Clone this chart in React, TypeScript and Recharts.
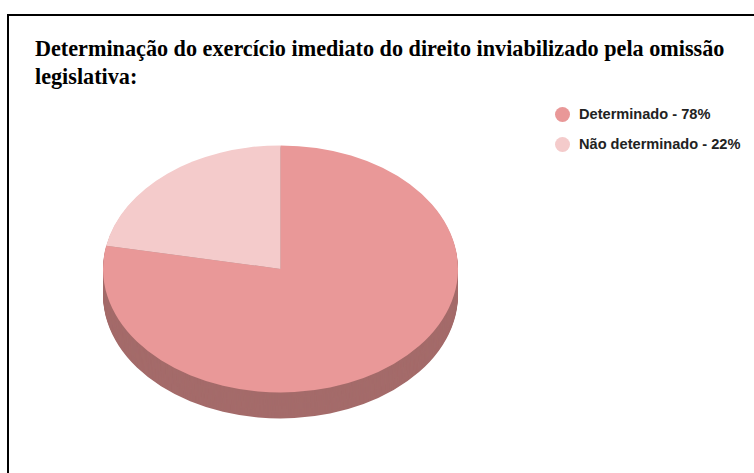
import React from 'react';
import { PieChart, Pie, Cell } from 'recharts';

const categories = ['Determinado', 'Não determinado'];
const values = [78, 22];
const legendLabels = ['Determinado - 78%', 'Não determinado - 22%'];
const topColors = ['#E99898', '#F4CBCB'];
const sideColor = '#A46B6A';
const titleText = 'Determinação do exercício imediato do direito inviabilizado pela omissão legislativa:';

const data = categories.map((name, i) => ({ name, value: values[i] }));

const R = 177.5;
const K = 123.5 / 177.5;
const D = 26 / K;
const W = 2 * R + 4;
const H = 2 * R + D + 6;
const CX = W / 2;
const CY = R + 2;
const depthSteps: number[] = [];
for (let o = D; o > 0; o -= 1.5) depthSteps.push(o);

export default function App() {
  return (
    <div style={{ position: 'fixed', left: 0, top: 0, width: 754, height: 473, background: '#fff', overflow: 'hidden' }}>
      <div style={{ position: 'absolute', left: 7, top: 14, width: 800, height: 500, border: '2px solid #000', boxSizing: 'border-box' }} />
      <div
        style={{
          position: 'absolute',
          left: 35,
          top: 35,
          width: 710,
          fontFamily: '"Liberation Serif", "Times New Roman", serif',
          fontWeight: 'bold',
          fontSize: 22.2,
          lineHeight: '28px',
          color: '#000',
        }}
      >
        {titleText}
      </div>
      <div style={{ position: 'absolute', left: 555, top: 99 }}>
        {legendLabels.map((label, i) => (
          <div key={label} style={{ display: 'flex', alignItems: 'center', height: 30 }}>
            <div style={{ width: 15, height: 15, borderRadius: 7.5, background: topColors[i], marginRight: 9 }} />
            <span style={{ fontFamily: '"Liberation Sans", Arial, sans-serif', fontWeight: 'bold', fontSize: 14.6, color: '#222' }}>{label}</span>
          </div>
        ))}
      </div>
      <div
        style={{
          position: 'absolute',
          left: 280.5 - CX,
          top: 145 - 2 * K,
          width: W,
          height: H,
          transform: `scaleY(${K})`,
          transformOrigin: 'top left',
        }}
      >
        <PieChart width={W} height={H} margin={{ top: 0, right: 0, bottom: 0, left: 0 }}>
          {depthSteps.map((o) => (
            <Pie
              key={'side' + o}
              data={data}
              dataKey="value"
              nameKey="name"
              cx={CX}
              cy={CY + o}
              outerRadius={R}
              startAngle={90}
              endAngle={-270}
              stroke="none"
              isAnimationActive={false}
              legendType="none"
            >
              {data.map((d) => (
                <Cell key={d.name} fill={sideColor} />
              ))}
            </Pie>
          ))}
          <Pie
            data={data}
            dataKey="value"
            nameKey="name"
            cx={CX}
            cy={CY}
            outerRadius={R}
            startAngle={90}
            endAngle={-270}
            stroke="none"
            isAnimationActive={false}
          >
            {data.map((d, i) => (
              <Cell key={d.name} fill={topColors[i]} />
            ))}
          </Pie>
        </PieChart>
      </div>
    </div>
  );
}
